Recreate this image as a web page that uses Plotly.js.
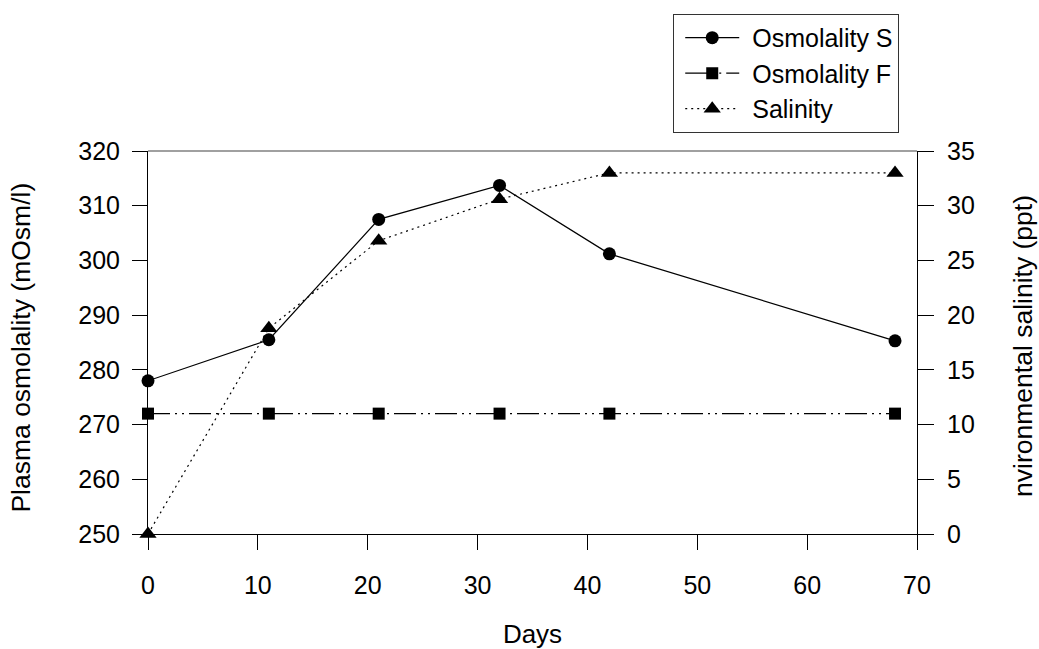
<!DOCTYPE html>
<html>
<head>
<meta charset="utf-8">
<script src="https://cdn.plot.ly/plotly-3.0.1.min.js"></script>
<style>
  html, body { margin: 0; padding: 0; background: #ffffff; }
  #chart { width: 1039px; height: 649px; }
</style>
</head>
<body>
<div id="chart"></div>
<script>
// Data
const days = [0, 11, 21, 32, 42, 68];
const osmolalityS = [278.0, 285.5, 307.5, 313.7, 301.2, 285.3];
const osmolalityF = [272, 272, 272, 272, 272, 272];
const salinity = [0, 18.8, 26.8, 30.6, 33.0, 33.0];

const xTicks = [0, 10, 20, 30, 40, 50, 60, 70];
const yTicksLeft = [250, 260, 270, 280, 290, 300, 310, 320];
const yTicksRight = [0, 5, 10, 15, 20, 25, 30, 35];

const xTitle = 'Days';
const yTitleLeft = 'Plasma osmolality (mOsm/l)';
const yTitleRight = 'nvironmental salinity (ppt)';

const FONT = 'Liberation Sans, Arial, sans-serif';

const traces = [
  {
    x: days, y: osmolalityS, name: 'Osmolality S', type: 'scatter', mode: 'lines+markers',
    line: { color: '#000000', width: 1.2, dash: 'solid' },
    marker: { symbol: 'circle', size: 13, color: '#000000' },
    cliponaxis: false, yaxis: 'y'
  },
  {
    x: days, y: osmolalityF, name: 'Osmolality F', type: 'scatter', mode: 'lines+markers',
    line: { color: '#000000', width: 1.2, dash: '22px,5px,2px,5px,2px,5px' },
    marker: { symbol: 'square', size: 12, color: '#000000' },
    cliponaxis: false, yaxis: 'y'
  },
  {
    x: days, y: salinity, name: 'Salinity', type: 'scatter', mode: 'lines+markers',
    line: { color: '#000000', width: 1.2, dash: '2px,4px' },
    marker: { symbol: 'triangle-up', size: 15, color: '#000000' },
    cliponaxis: false, yaxis: 'y2'
  }
];

const layout = {
  width: 1039, height: 649,
  paper_bgcolor: '#ffffff', plot_bgcolor: '#ffffff',
  margin: { l: 148, r: 122, t: 151, b: 115 },
  font: { family: FONT, size: 25, color: '#000000' },
  showlegend: true,
  legend: {
    x: 0.683, y: 1.358, xanchor: 'left', yanchor: 'top',
    bgcolor: '#ffffff', bordercolor: '#333333', borderwidth: 1,
    font: { family: FONT, size: 25, color: '#000000' },
    itemwidth: 68, tracegroupgap: 0
  },
  xaxis: {
    range: [0, 70], tickvals: xTicks, ticktext: xTicks.map(String),
    showgrid: false, zeroline: false,
    showline: true, linecolor: '#000000', linewidth: 1,
    ticks: 'outside', ticklen: 15, tickwidth: 1, tickcolor: '#000000',
    ticklabelstandoff: 14,
    tickfont: { family: FONT, size: 25 },
    title: { text: xTitle, font: { family: FONT, size: 26 }, standoff: 28 }
  },
  yaxis: {
    range: [250, 320], tickvals: yTicksLeft, ticktext: yTicksLeft.map(String),
    showgrid: false, zeroline: false,
    showline: true, linecolor: '#000000', linewidth: 1,
    ticks: 'outside', ticklen: 15, tickwidth: 1, tickcolor: '#000000',
    ticklabelstandoff: 7,
    tickfont: { family: FONT, size: 25 }
  },
  yaxis2: {
    range: [0, 35], tickvals: yTicksRight, ticktext: yTicksRight.map(String),
    overlaying: 'y', side: 'right',
    showgrid: false, zeroline: false,
    showline: true, linecolor: '#000000', linewidth: 1,
    ticks: 'outside', ticklen: 16, tickwidth: 1, tickcolor: '#000000',
    ticklabelstandoff: 8,
    tickfont: { family: FONT, size: 25 }
  },
  annotations: [
    { text: yTitleLeft, xref: 'paper', yref: 'paper', x: -0.165, y: 0.487,
      xanchor: 'center', yanchor: 'middle', textangle: -90, showarrow: false,
      font: { family: FONT, size: 26.5, color: '#000000' } },
    { text: yTitleRight, xref: 'paper', yref: 'paper', x: 1.1378, y: 0.491,
      xanchor: 'center', yanchor: 'middle', textangle: -90, showarrow: false,
      font: { family: FONT, size: 26.5, color: '#000000' } }
  ],
  shapes: [
    { type: 'line', xref: 'paper', yref: 'paper', x0: 0, x1: 1, y0: 1, y1: 1,
      line: { color: '#808080', width: 1.5 }, layer: 'below' }
  ]
};

Plotly.newPlot('chart', traces, layout, { displayModeBar: false, staticPlot: true }).then(function (gd) {
  // widen the legend sample lines to match the reference legend keys
  gd.querySelectorAll('.legend .legendlines path').forEach(function (p) {
    p.setAttribute('d', 'M11,0h54');
  });
  gd.querySelectorAll('.legend .legendsymbols path.scatterpts').forEach(function (p) {
    p.setAttribute('transform', 'translate(38,0)');
  });
});
</script>
</body>
</html>
